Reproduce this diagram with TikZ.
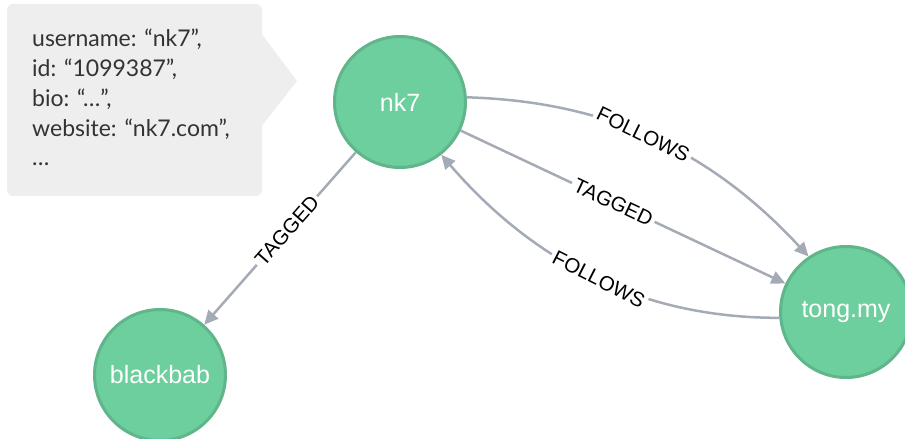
\documentclass[tikz,border=0pt]{standalone}
\usepackage{fontspec}
\setmainfont{Liberation Sans}
\newfontfamily\calloutfont{Lato}
\usetikzlibrary{arrows.meta}
\definecolor{nodefill}{HTML}{6DCE9E}
\definecolor{nodeline}{HTML}{60B58B}
\definecolor{edgegray}{HTML}{A5ABB6}
\definecolor{calloutbg}{HTML}{EEEEEE}
\definecolor{callouttext}{HTML}{333333}
\begin{document}
\begin{tikzpicture}[x=1pt,y=1pt,
  person/.style={circle, fill=nodefill, draw=nodeline, line width=3pt,
    minimum size=131pt, inner sep=0pt, text=white,
    font=\fontsize{25}{30}\selectfont},
  rel/.style={draw=edgegray, line width=2.5pt,
    -{Triangle[length=14pt,width=13pt]}},
  rellabel/.style={fill=white, inner sep=3pt, text=black,
    font=\fontsize{20.5}{24}\selectfont},
  propline/.style={anchor=base west, inner sep=0pt, text=callouttext,
    font=\calloutfont\fontsize{23}{28}\selectfont}
]
\useasboundingbox (0,0) rectangle (905,439);

% property callout of nk7
\fill[calloutbg, rounded corners=6pt] (7,243) rectangle (262,435);
\fill[calloutbg] (261,406) -- (297,358) -- (261,312) -- cycle;
\node[propline] (p1) at (32,392)   {username: “nk7”,};
\node[propline] (p2) at (32,362.3) {id: “1099387”,};
\node[propline] (p3) at (32,332.6) {bio: “…”,};
\node[propline] (p4) at (32,302.9) {website: “nk7.com”,};
\node[propline] (p5) at (32,273.2) {…};

% users
\node[person] (nk7)  at (400,337) {nk7};
\node[person] (tong) at (846,127) {tong.my};
\node[person] (bb)   at (160,64)  {blackbab};

% relationships
\draw[rel] (nk7.4) .. controls (590,338) and (700,300) .. (tong.124)
  node[rellabel, pos=0.5, rotate=-26] {FOLLOWS};
\draw[rel] (nk7) -- (tong)
  node[rellabel, pos=0.47, rotate=-25.2] {TAGGED};
\draw[rel] (tong.185) .. controls (650,121) and (540,170) .. (nk7.308)
  node[rellabel, pos=0.5, rotate=-27] {FOLLOWS};
\draw[rel] (nk7) -- (bb)
  node[rellabel, pos=0.454, rotate=48.7] {TAGGED};
\end{tikzpicture}
\end{document}
